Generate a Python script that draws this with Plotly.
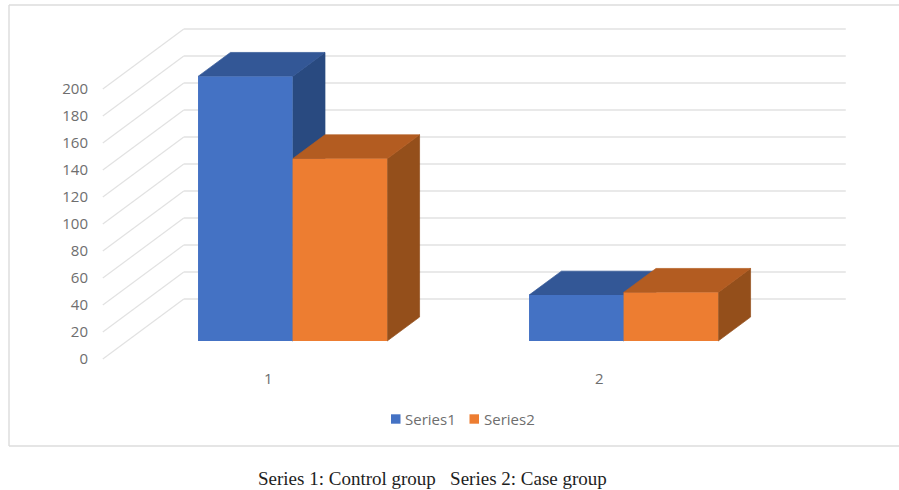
import plotly.graph_objects as go

# Chart data
categories = [1, 2]
series_names = ["Series1", "Series2"]
series1 = [196, 34]
series2 = [135, 36]
value_ticks = [0, 20, 40, 60, 80, 100, 120, 140, 160, 180, 200]

# Oblique projection: a point at depth d (0 = front, 1 = back wall) is shifted
# by d * SKEW_X along the category axis and d * SKEW_Y along the value axis.
SKEW_X = 0.2447
SKEW_Y = 44.4
BAR_WIDTH = 1 / 3.5
DEPTH_FRONT = 0.3
DEPTH_BACK = 0.7

WIDTH, HEIGHT = 899, 490
LEFT, RIGHT, TOP, BOTTOM = 89, 860, 20, 368
PX_PER_CATEGORY = 331
PX_PER_VALUE = 1.35
ORIGIN_X, ORIGIN_Y = 268.3, 359

x_range = [1 + (LEFT - ORIGIN_X) / PX_PER_CATEGORY, 1 + (RIGHT - ORIGIN_X) / PX_PER_CATEGORY]
y_range = [(ORIGIN_Y - BOTTOM) / PX_PER_VALUE, (ORIGIN_Y - TOP) / PX_PER_VALUE]

FRONT = ["#4472C4", "#ED7D31"]
TOP_FACE = ["#335796", "#B35C21"]
SIDE_FACE = ["#294A80", "#944F1B"]
GRID = "#E2E2E2"
TEXT = "#6E6E6E"


def project(x, value, depth):
    return x + depth * SKEW_X, value + depth * SKEW_Y


def face(points, color):
    xs, ys = zip(*[project(*p) for p in points])
    return go.Scatter(
        x=list(xs) + [xs[0]], y=list(ys) + [ys[0]], mode="lines", fill="toself",
        fillcolor=color, line=dict(width=0.7, color=color), showlegend=False, hoverinfo="skip",
    )


fig = go.Figure()

# Top and side faces go on the base axes, front faces on an overlay above them.
for i, values in enumerate([series1, series2]):
    for c, v in zip(categories, values):
        x0 = c - BAR_WIDTH + i * BAR_WIDTH
        x1 = x0 + BAR_WIDTH
        fig.add_trace(face([(x1, 0, DEPTH_FRONT), (x1, v, DEPTH_FRONT), (x1, v, DEPTH_BACK), (x1, 0, DEPTH_BACK)], SIDE_FACE[i]))
        fig.add_trace(face([(x0, v, DEPTH_FRONT), (x1, v, DEPTH_FRONT), (x1, v, DEPTH_BACK), (x0, v, DEPTH_BACK)], TOP_FACE[i]))

for i, values in enumerate([series1, series2]):
    fig.add_trace(go.Bar(
        x=categories, y=values, name=series_names[i],
        base=[DEPTH_FRONT * SKEW_Y] * len(values),
        width=BAR_WIDTH,
        offset=-BAR_WIDTH + i * BAR_WIDTH + DEPTH_FRONT * SKEW_X,
        marker=dict(color=FRONT[i], line=dict(width=0)),
        xaxis="x2", yaxis="y2", showlegend=False,
    ))

shapes = []
# Side wall diagonals and back wall gridlines
x_start, x_end = categories[0] - 0.5, categories[-1] + 0.5
for tick in value_ticks:
    bx, by = project(x_start, tick, 1)
    ex, _ = project(x_end, tick, 1)
    shapes.append(dict(type="line", xref="x", yref="y", layer="below",
                       x0=x_start, y0=tick, x1=bx, y1=by, line=dict(color=GRID, width=1.2)))
    shapes.append(dict(type="line", xref="x", yref="y", layer="below",
                       x0=bx, y0=by, x1=ex, y1=by, line=dict(color=GRID, width=1.6)))

# Chart frame, open on the right where it runs off the page
def px(x):
    return x / WIDTH


def py(y):
    return 1 - y / HEIGHT


for x0, y0, x1, y1 in [(9, 5, 899, 5), (9, 5, 9, 446), (9, 446, 899, 446)]:
    shapes.append(dict(type="line", xref="paper", yref="paper", layer="below",
                       x0=px(x0), y0=py(y0), x1=px(x1), y1=py(y1), line=dict(color="#DCDCDC", width=1.4)))

# Legend keys
annotations = []
for name, color, key_x, text_x in [(series_names[0], FRONT[0], 391, 404), (series_names[1], FRONT[1], 469.5, 483)]:
    shapes.append(dict(type="rect", xref="paper", yref="paper", layer="above",
                       x0=px(key_x), x1=px(key_x + 9.5), y0=py(423.7), y1=py(414.3),
                       fillcolor=color, line=dict(width=0)))
    annotations.append(dict(text=name, xref="paper", yref="paper", x=px(text_x), y=py(418.5),
                            xanchor="left", yanchor="middle", showarrow=False, borderpad=0,
                            font=dict(family="Open Sans", size=15, color=TEXT)))

# Caption under the frame
annotations.append(dict(
    text="Series 1: Control group\u00a0\u00a0\u00a0Series 2: Case group",
    xref="paper", yref="paper", x=px(432), y=py(478), xanchor="center", yanchor="middle",
    showarrow=False, font=dict(family="Liberation Serif", size=19, color="#1E1E1E"),
))

axis_font = dict(family="Open Sans", size=15, color=TEXT)
x_domain = [LEFT / WIDTH, RIGHT / WIDTH]
y_domain = [1 - BOTTOM / HEIGHT, 1 - TOP / HEIGHT]

fig.update_layout(
    width=WIDTH, height=HEIGHT,
    margin=dict(l=0, r=0, t=0, b=0),
    paper_bgcolor="white", plot_bgcolor="rgba(0,0,0,0)",
    barmode="overlay", showlegend=False,
    shapes=shapes, annotations=annotations,
    xaxis=dict(domain=x_domain, range=x_range, tickmode="array", tickvals=categories,
               ticktext=[str(c) for c in categories], tickfont=axis_font,
               showgrid=False, zeroline=False, showline=False, ticks=""),
    yaxis=dict(domain=y_domain, range=y_range, tickmode="array", tickvals=value_ticks,
               tickfont=axis_font, showgrid=False, zeroline=False, showline=False, ticks=""),
    xaxis2=dict(domain=x_domain, range=x_range, overlaying="x", anchor="y2", visible=False),
    yaxis2=dict(domain=y_domain, range=y_range, overlaying="y", anchor="x2", visible=False),
)

fig.write_html("out.html", config=dict(displayModeBar=False))
